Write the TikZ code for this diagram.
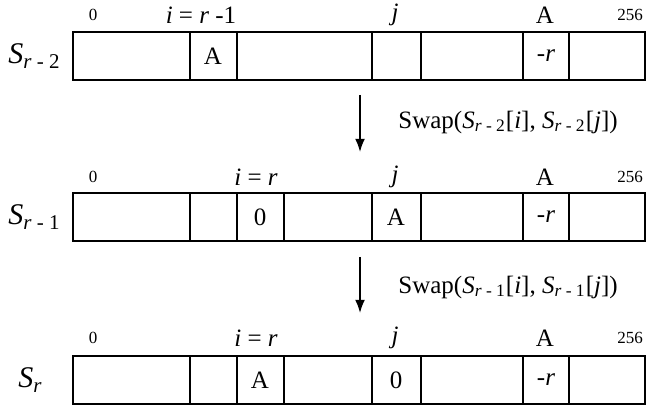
\documentclass[tikz,border=0pt]{standalone}
\usepackage{fontspec}
\setmainfont{Liberation Serif}
\usetikzlibrary{arrows.meta}
\tikzset{>=Latex}
\tikzset{
	box/.style={line width=1.1pt},
	val/.style={inner sep=0pt, font=\fontsize{12.5}{14}\selectfont},
	idx/.style={inner sep=0pt, font=\fontsize{8.5}{10}\selectfont},
	rowname/.style={anchor=west, inner sep=0pt, font=\fontsize{15}{18}\selectfont},
	swapstep/.style={->, line width=0.8pt}
}
\newcommand{\Sr}[1]{\textit{S}\textsubscript{\textit{r}#1}}

\begin{document}
\begin{tikzpicture}[x=0.5pt, y=-0.5pt]
	\useasboundingbox (0,0) rectangle (646,410);
	% the three states of the array
	\foreach \y/\cuts in {32/{190,237,372,421,523,569}, 193/{190,237,284,372,421,523,569}, 356/{190,237,284,372,421,523,569}} {
		\draw[box] (73,\y) rectangle (645,\y+48);
		\foreach \c in \cuts
			\draw[box] (\c,\y) -- (\c,\y+48);
	}
	% row names
	\node[rowname] (s2) at (8,56) {\Sr{ - 2}};
	\node[rowname] (s1) at (8,217) {\Sr{ - 1}};
	\node[rowname] (s0) at (18,380) {\Sr{}};
	% indices above each row
	\node[idx] (z2) at (93,15) {0};
	\node[val] (i2) at (201,15) {\textit{i} = \textit{r} -1};
	\node[val] (j2) at (395,15) {\textit{j}};
	\node[val] (a2) at (545,15) {A};
	\node[idx] (e2) at (630,15) {256};
	\node[idx] (z1) at (93,177) {0};
	\node[val] (i1) at (256,177) {\textit{i} = \textit{r}};
	\node[val] (j1) at (395,177) {\textit{j}};
	\node[val] (a1) at (545,177) {A};
	\node[idx] (e1) at (630,177) {256};
	\node[idx] (z0) at (93,338) {0};
	\node[val] (i0) at (256,338) {\textit{i} = \textit{r}};
	\node[val] (j0) at (395,338) {\textit{j}};
	\node[val] (a0) at (545,338) {A};
	\node[idx] (e0) at (630,338) {256};
	% cell contents
	\node[val] (c2a) at (213,56) {A};
	\node[val] (c2r) at (546,56) {-\textit{r}};
	\node[val] (c1a) at (260,217) {0};
	\node[val] (c1b) at (396,217) {A};
	\node[val] (c1r) at (546,217) {-\textit{r}};
	\node[val] (c0a) at (260,380) {A};
	\node[val] (c0b) at (396,380) {0};
	\node[val] (c0r) at (546,380) {-\textit{r}};
	% swap steps
	\coordinate (t1) at (360,95);
	\coordinate (h1) at (360,152);
	\draw[swapstep] (t1) -- (h1);
	\node[val, anchor=west] (sw1) at (398,122) {Swap(\Sr{ - 2}[\textit{i}], \Sr{ - 2}[\textit{j}])};
	\coordinate (t2) at (360,257);
	\coordinate (h2) at (360,313);
	\draw[swapstep] (t2) -- (h2);
	\node[val, anchor=west] (sw2) at (398,287) {Swap(\Sr{ - 1}[\textit{i}], \Sr{ - 1}[\textit{j}])};
\end{tikzpicture}
\end{document}
